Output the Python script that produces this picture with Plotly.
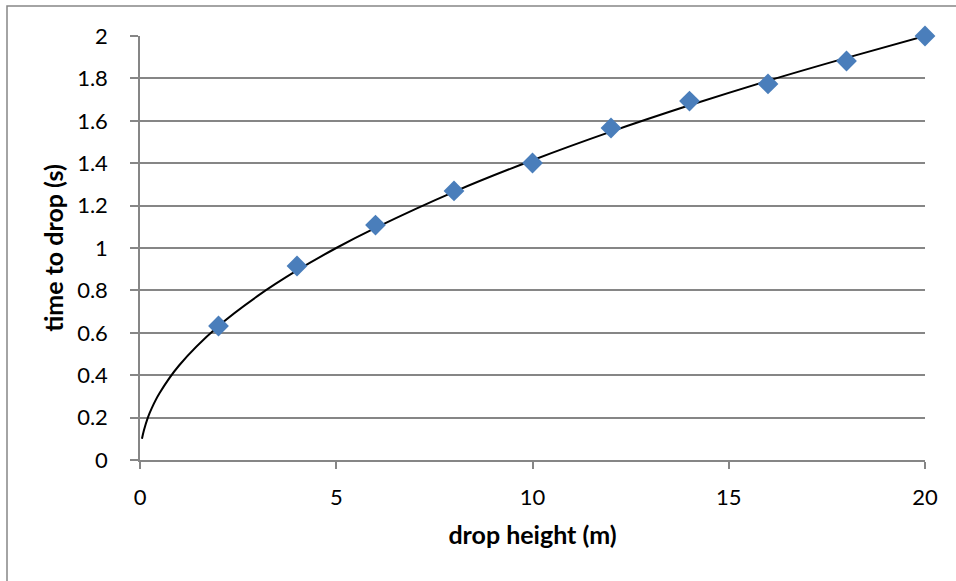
import plotly.graph_objects as go

# measured data points
drop_height = [2, 4, 6, 8, 10, 12, 14, 16, 18, 20]
drop_time = [0.632, 0.915, 1.108, 1.269, 1.401, 1.566, 1.693, 1.774, 1.882, 2.0]

# trendline points
trend_x = [0.05, 0.1, 0.2, 0.3, 0.5, 1, 2, 3, 4, 5, 6, 8, 10, 12, 14, 16, 18, 20]
trend_y = [0.10, 0.14, 0.20, 0.245, 0.316, 0.447, 0.632, 0.774, 0.894, 1.0, 1.095, 1.265,
           1.414, 1.549, 1.673, 1.789, 1.897, 2.0]

x_ticks = [0, 5, 10, 15, 20]
y_ticks = [0, 0.2, 0.4, 0.6, 0.8, 1, 1.2, 1.4, 1.6, 1.8, 2]
y_tick_labels = ["0", "0.2", "0.4", "0.6", "0.8", "1", "1.2", "1.4", "1.6", "1.8", "2"]

FONT = "Lato, Liberation Sans, sans-serif"
GRID = "#868686"

W, H = 956, 581
L, R, T, B = 140, 31, 36, 121
PW, PH = W - L - R, H - T - B

fig = go.Figure()
fig.add_trace(go.Scatter(x=trend_x, y=trend_y, mode="lines", line=dict(color="black", width=2, shape="spline"),
                         showlegend=False, hoverinfo="skip", cliponaxis=False))
fig.add_trace(go.Scatter(x=drop_height, y=drop_time, mode="markers", cliponaxis=False,
                         marker=dict(symbol="diamond", size=16, color="#4A7EBB", line=dict(width=0)),
                         showlegend=False))

fig.update_layout(
    width=W, height=H,
    margin=dict(l=L, r=R, t=T, b=B),
    paper_bgcolor="white", plot_bgcolor="white",
    font=dict(family=FONT, size=22, color="black"),
    xaxis=dict(range=[0, 20], tickvals=x_ticks, showgrid=False, zeroline=False,
               showline=True, linecolor=GRID, linewidth=1.5,
               ticks="outside", ticklen=7, tickcolor=GRID, tickwidth=1.5,
               ticklabelstandoff=10,
               title=dict(text="<b>drop height (m)</b>", standoff=17, font=dict(size=25))),
    yaxis=dict(range=[0, 2], tickvals=y_ticks, ticktext=y_tick_labels, showgrid=True,
               gridcolor=GRID, gridwidth=1.5, zeroline=False,
               showline=True, linecolor=GRID, linewidth=1.5,
               ticks="outside", ticklen=8, tickcolor=GRID, tickwidth=1.5,
               ticklabelstandoff=18,
               title=dict(text="<b>time to drop (s)</b>", standoff=6, font=dict(size=25))),
    shapes=[dict(type="rect", xref="paper", yref="paper",
                 x0=(7 - L) / PW, x1=(990 - L) / PW, y0=-0.5, y1=(H - B - 6) / PH,
                 line=dict(color=GRID, width=1.5), fillcolor="rgba(0,0,0,0)", layer="below")],
)

fig.write_html("out.html", config={"displayModeBar": False},
               post_script="document.body.style.margin='0';")
